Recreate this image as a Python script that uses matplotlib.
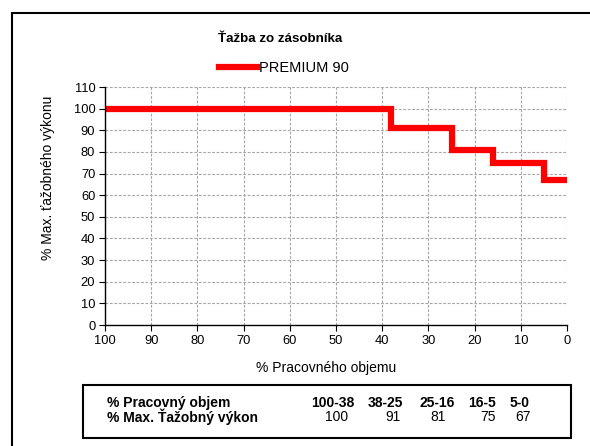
import matplotlib
matplotlib.use('Agg')
import matplotlib.pyplot as plt
from matplotlib.patches import Rectangle

plt.rcParams['font.family'] = ['Liberation Sans', 'DejaVu Sans']

# data
breaks = [100, 38, 25, 16, 5, 0]          # % pracovného objemu
vykon = [100, 91, 81, 75, 67]             # % max. ťažobný výkon
series_name = 'PREMIUM 90'
x_ticks = list(range(100, -1, -10))
y_ticks = list(range(0, 111, 10))

W, H = 590, 446
fig = plt.figure(figsize=(W / 100, H / 100), dpi=100)

def fx(px):
    return px / W

def fy(py):
    return 1 - py / H

# outer frame (right/bottom edge fall outside the picture)
fig.add_artist(Rectangle((fx(12), fy(452)), fx(600) - fx(12), fy(13) - fy(452),
                         transform=fig.transFigure, fill=False, lw=1.5, ec='black'))

ax = fig.add_axes([fx(105), fy(325), fx(567) - fx(105), fy(87) - fy(325)])
ax.step(breaks, vykon + [vykon[-1]], where='post', color='#ff0000', lw=4.5,
        solid_joinstyle='miter', label=series_name)
ax.set_xlim(100, 0)
ax.set_ylim(0, 110)
ax.set_xticks(x_ticks)
ax.set_yticks(y_ticks)
ax.tick_params(labelsize=9.3, length=4, width=0.8, direction='out', pad=3)
ax.grid(True, ls=(0, (2.5, 1.5)), color='#a6a6a6', lw=0.8)
for s in ['top', 'right']:
    ax.spines[s].set_visible(False)
for s in ['left', 'bottom']:
    ax.spines[s].set_linewidth(1.0)

fig.text(fx(280), fy(39), 'Ťažba zo zásobníka', ha='center', va='center',
         fontsize=9.6, fontweight='bold')
ax.legend(loc='center', bbox_to_anchor=(fx(284), fy(68)), bbox_transform=fig.transFigure,
          frameon=False, fontsize=10.5, handlelength=2.6, handletextpad=0.2)
fig.text(fx(326), fy(368), '% Pracovného objemu', ha='center', va='center', fontsize=10)
fig.text(fx(48), fy(178), '% Max. ťažobného výkonu', ha='center', va='center',
         fontsize=10, rotation=90)

# table box
fig.add_artist(Rectangle((fx(83), fy(438)), fx(571) - fx(83), fy(385) - fy(438),
                         transform=fig.transFigure, fill=False, lw=1.5, ec='black'))
fig.text(fx(107), fy(403), '% Pracovný objem', ha='left', va='center',
         fontsize=10, fontweight='bold')
fig.text(fx(107), fy(417), '% Max. Ťažobný výkon', ha='left', va='center',
         fontsize=10, fontweight='bold')
col_x = [333, 385, 437, 482, 520]
val_x = [337, 393, 438, 488, 523]
for i, v in enumerate(vykon):
    rng = f'{breaks[i]}-{breaks[i + 1]}'
    fig.text(fx(col_x[i]), fy(403), rng, ha='center', va='center',
             fontsize=10, fontweight='bold')
    fig.text(fx(val_x[i]), fy(417), str(v), ha='center', va='center', fontsize=10)

fig.savefig('out.png', dpi=100)
